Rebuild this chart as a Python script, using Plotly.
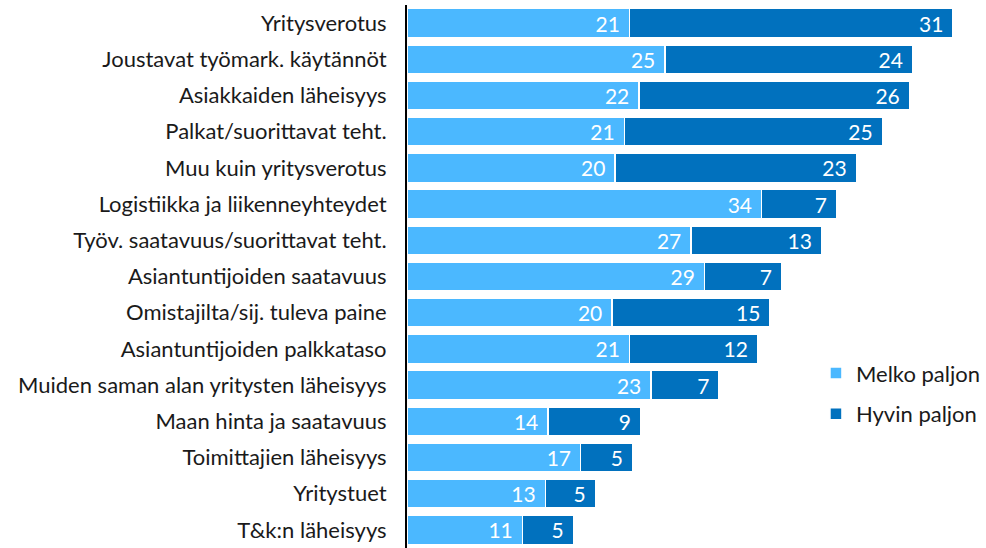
import plotly.graph_objects as go

categories = [
    "Yritysverotus",
    "Joustavat työmark. käytännöt",
    "Asiakkaiden läheisyys",
    "Palkat/suorittavat teht.",
    "Muu kuin yritysverotus",
    "Logistiikka ja liikenneyhteydet",
    "Työv. saatavuus/suorittavat teht.",
    "Asiantuntijoiden saatavuus",
    "Omistajilta/sij. tuleva paine",
    "Asiantuntijoiden palkkataso",
    "Muiden saman alan yritysten läheisyys",
    "Maan hinta ja saatavuus",
    "Toimittajien läheisyys",
    "Yritystuet",
    "T&k:n läheisyys",
]
# values (labels show rounded values)
melko = [21.4, 24.8, 22.3, 20.9, 20.0, 34.1, 27.3, 28.6, 19.7, 21.4, 23.45, 13.55, 16.7, 13.3, 11.1]
hyvin = [31.1, 23.8, 26.0, 24.8, 23.2, 7.2, 12.55, 7.4, 15.2, 12.3, 6.55, 8.9, 5.0, 4.8, 4.9]

FONT = "Lato"
PAD = "\u00a0\u200a"

fig = go.Figure()
for name, vals, color, grp in [
    ("Melko paljon", melko, "#4BB8FF", "a"),
    ("Hyvin paljon", hyvin, "#0171BE", "b"),
]:
    fig.add_trace(go.Bar(
        y=categories, x=vals, name=name, orientation="h",
        marker=dict(color=color, line=dict(color="white", width=1.5)),
        texttemplate="%{x:.0f}" + PAD,
        textposition="inside", insidetextanchor="end", textangle=0,
        textfont=dict(color="white", size=21, family=FONT),
        constraintext="none",
        legendgroup=grp,
        hoverinfo="x+name",
    ))

fig.update_layout(
    barmode="stack",
    bargap=0.2,
    width=986, height=548,
    margin=dict(l=407, r=11, t=5, b=0),
    plot_bgcolor="white", paper_bgcolor="white",
    font=dict(family=FONT, size=22, color="#1a1a1a"),
    xaxis=dict(range=[0, 54.6], visible=False, fixedrange=True),
    yaxis=dict(autorange="reversed", showline=True, linecolor="black", linewidth=2,
               ticks="", ticklabelstandoff=14, showgrid=False, automargin=False),
    legend=dict(x=0.72, y=0.284, xanchor="left", yanchor="middle",
                traceorder="grouped", tracegroupgap=9,
                font=dict(size=22, family=FONT, color="#1a1a1a"),
                itemwidth=30, bgcolor="rgba(0,0,0,0)"),
    showlegend=True,
)

fig.write_html(
    "out.html",
    config={"displayModeBar": False},
    post_script="document.body.style.margin='0';document.body.style.overflow='hidden';",
)
